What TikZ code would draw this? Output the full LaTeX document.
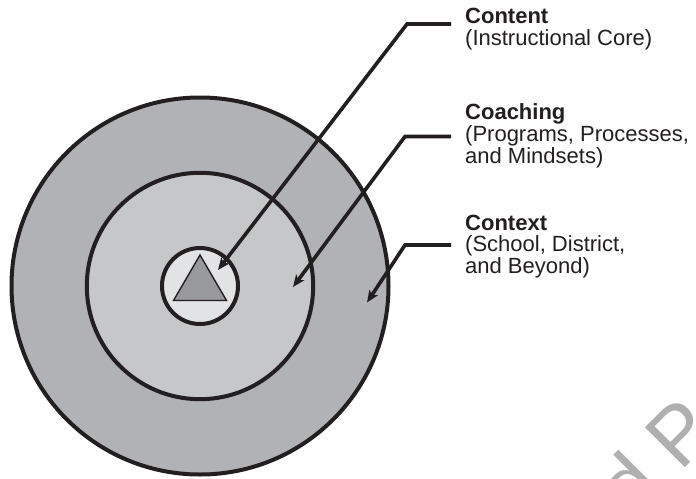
\documentclass[tikz,border=0pt]{standalone}
\usepackage{fontspec}
\setmainfont{Liberation Sans}
\usetikzlibrary{arrows.meta}
\definecolor{ink}{HTML}{231F20}
\definecolor{ringout}{HTML}{B1B2B5}
\definecolor{ringmid}{HTML}{C6C7C9}
\definecolor{ringin}{HTML}{E2E3E5}
\definecolor{core}{HTML}{98999C}
\definecolor{wmark}{RGB}{176,176,176}
\begin{document}
\begin{tikzpicture}[x=1pt,y=-1pt,
  ring/.style={draw=ink, line width=4pt},
  pointer/.style={draw=ink, line width=3.6pt, -{Stealth[length=12pt,width=10pt,inset=3pt]}},
  title/.style={anchor=base west, inner sep=0pt, font=\fontsize{22}{22}\selectfont\bfseries, text=ink},
  sub/.style={anchor=base west, inner sep=0pt, font=\fontsize{22}{22}\selectfont, text=ink}]
\clip (0,0) rectangle (696,479);
\fill[white] (0,0) rectangle (696,479);

% faint diagonal watermark
\node[anchor=base west, inner sep=0pt, rotate=45, text=wmark,
      font=\fontsize{82}{82}\selectfont] (wm) at (632,521) {d P};

% concentric rings
\coordinate (c) at (200,286);
\draw[ring, fill=ringout] (c) circle[radius=188.5pt];
\draw[ring, fill=ringmid] (c) circle[radius=113.2pt];
\draw[ring, fill=ringin]  (c) circle[radius=38pt];
\draw[draw=ink, fill=core, line width=1.4pt] (200,255) -- (173.5,300.5) -- (226.5,300.5) -- cycle;

% labels
\node[title] (t1) at (465,23.3) {Content};
\node[sub]   (s1) at (465,45.3) {(Instructional Core)};
\node[title] (t2) at (465,119.8) {Coaching};
\node[sub]   (s2a) at (465,141.5) {(Programs, Processes,};
\node[sub]   (s2b) at (465,163) {and Mindsets)};
\node[title] (t3) at (465,230) {Context};
\node[sub]   (s3a) at (465,251.7) {(School, District,};
\node[sub]   (s3b) at (465,273.4) {and Beyond)};

% pointer geometry
\coordinate (l1) at (451,24);   \coordinate (k1) at (407,24);   \coordinate (p1) at (218,270);
\coordinate (l2) at (451,136.5);\coordinate (k2) at (405,136.5);\coordinate (p2) at (293,287);
\coordinate (l3) at (451,245);  \coordinate (k3) at (405,245);  \coordinate (p3) at (367,302.5);

\draw[pointer] (l1) -- (k1) -- (p1);
\draw[pointer] (l2) -- (k2) -- (p2);
\draw[pointer] (l3) -- (k3) -- (p3);
\end{tikzpicture}
\end{document}
